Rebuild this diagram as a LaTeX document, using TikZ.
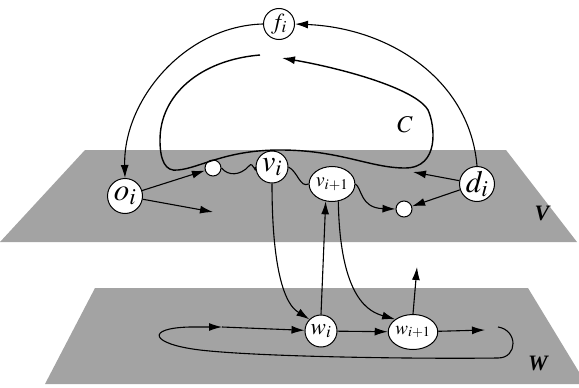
\documentclass[tikz,border=0pt]{standalone}
\usepackage{mathptmx}
\usepackage{fontspec}
\newfontfamily\planefont{Liberation Serif}
\usetikzlibrary{arrows.meta, positioning, shapes.geometric}

\begin{document}
\begin{tikzpicture}[
    x=1pt, y=-1pt, >={Latex[length=13pt,width=8pt]},
    state/.style={draw, circle, fill=white, line width=1pt, inner sep=0pt},
    blob/.style={draw, ellipse, fill=white, line width=1pt, inner sep=0pt},
    dot/.style={draw, circle, fill=white, line width=1pt,
                minimum size=16pt, inner sep=0pt},
    plane/.style={fill=black!36},
    link/.style={line width=1.1pt}
  ]
  \useasboundingbox (0,0) rectangle (579,388);

  % planes V and W
  \fill[plane] (85,150) -- (506,150) -- (577,242) -- (0,242) -- cycle;
  \fill[plane] (95,288) -- (528,288) -- (579,372) -- (579,384)
    -- (45,384) -- cycle;
  \node[font=\planefont\bfseries\itshape\fontsize{22}{22}\selectfont]
    (lblV) at (542,213) {V};
  \node[font=\planefont\bfseries\itshape\fontsize{22}{22}\selectfont]
    (lblW) at (538,363) {W};

  % nodes
  \node[state, minimum size=31pt, font=\fontsize{23}{23}\selectfont]
    (fi) at (279,24) {$f_i$};
  \node[state, minimum size=35pt, font=\fontsize{31}{31}\selectfont]
    (oi) at (125,196) {$o_i$};
  \node[state, minimum size=35pt, font=\fontsize{31}{31}\selectfont]
    (di) at (477,184) {$d_i$};
  \node[state, minimum size=32pt, font=\fontsize{30}{30}\selectfont]
    (vi) at (272,167) {$v_i$};
  \node[blob, minimum width=45pt, minimum height=35pt,
        font=\fontsize{20}{20}\selectfont] (vnext) at (332,184) {$v_{i+1}$};
  \node[dot] (dotA) at (213,168) {};
  \node[dot] (dotB) at (404,209) {};
  \node[state, minimum size=32pt, font=\fontsize{23}{23}\selectfont]
    (wi) at (321,331) {$w_i$};
  \node[blob, minimum width=43pt, minimum height=35pt,
        font=\fontsize{19}{19}\selectfont] (wnext) at (413,332) {$w_{i+1}$};

  % the circuit C
  \node[font=\fontsize{24}{24}\selectfont] (lblC) at (405,125) {$C$};
  \draw[line width=1.4pt, ->] (260,55) .. controls (200,60) and (160,95)
    .. (160,140)
    .. controls (160,160) and (165,172) .. (178,170)
    .. controls (200,168) and (225,150) .. (280,150)
    .. controls (340,150) and (370,168) .. (405,168)
    .. controls (440,168) and (435,125) .. (428,110)
    .. controls (415,88) and (340,68) .. (282,58);

  % free ends
  \coordinate (oiOut) at (213,212);
  \coordinate (diOut) at (413,172);
  \coordinate (wUp) at (417,267);
  \coordinate (wOut) at (485,330);
  \coordinate (loopS) at (498,327);
  \coordinate (loopM) at (222,327);

  % upper level
  \draw[link, ->] (fi.west) .. controls (185,26) and (123,100) .. (oi.north);
  \draw[link, ->] (di.north) .. controls (470,80) and (390,28) .. (fi.east);
  \draw[link, ->] (oi) -- (dotA);
  \draw[link, ->] (oi) -- (oiOut);
  \draw[link, ->] (di) -- (diOut);
  \draw[link, ->] (di) -- (dotB);
  \draw[link] (dotA.east) .. controls (228,176) and (240,176) .. (249,166)
    .. controls (253,160) and (256,176) .. (vi.west);
  \draw[link] (vi.east) .. controls (298,172) and (300,188) .. (vnext.west);
  \draw[link, ->] (vnext.east) .. controls (362,188) and (360,208)
    .. (dotB.west);

  % between the levels
  \draw[link, ->] (vi.south) .. controls (272,300) and (295,310)
    .. (wi.north west);
  \draw[link, ->] (wi.north) -- (vnext.250);
  \draw[link, ->] (vnext.290) .. controls (340,300) and (370,312)
    .. (wnext.north west);

  % lower level
  \draw[link, ->] (wi) -- (wnext);
  \draw[link, ->] (wnext.north) -- (wUp);
  \draw[link, ->] (wnext) -- (wOut);
  \draw[link, ->] (loopS) .. controls (518,330) and (518,358) .. (498,358)
    .. controls (420,359) and (260,357) .. (200,350)
    .. controls (150,344) and (145,328) .. (190,327) -- (loopM);
  \draw[link, ->] (loopM) -- (wi);
\end{tikzpicture}
\end{document}
